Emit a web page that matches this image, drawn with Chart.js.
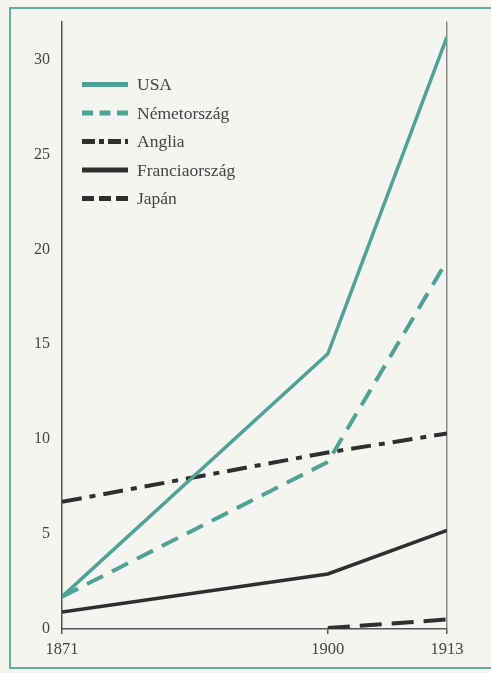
<!DOCTYPE html>
<html><head><meta charset="utf-8">
<script src="https://cdn.jsdelivr.net/npm/chart.js@4"></script>
<style>
html,body{margin:0;padding:0;background:#f4f4f1;}
#wrap{position:relative;width:491px;height:673px;overflow:hidden;background:#f4f4f1;}
#frame{position:absolute;left:9px;top:7px;width:520px;height:662px;border:2px solid #5fae9f;box-sizing:border-box;}
canvas{position:absolute;left:0;top:0;}
</style></head><body>
<div id="wrap"><div id="frame"></div><canvas id="c" width="491" height="673"></canvas></div>
<script>
const years = [1871, 1900, 1913];
const usa = [1.7, 14.5, 31.2];
const nemetorszag = [1.7, 8.8, 19.4];
const anglia = [6.7, 9.3, 10.3];
const franciaorszag = [0.9, 2.9, 5.2];
const japan = [null, 0.05, 0.5];
const seriesNames = ['USA', 'Németország', 'Anglia', 'Franciaország', 'Japán'];
const yTicks = [0, 5, 10, 15, 20, 25, 30];
const xTicks = [1871, 1900, 1913];

const TEAL = '#4fa394';
const DARK = '#2f2f2f';
const FONT = 'Liberation Serif';

const pts = arr => years.map((x, i) => ({x: x, y: arr[i]}));

const insideLegend = {
  id: 'insideLegend',
  afterDatasetsDraw(chart, args, opts) {
    const {ctx, chartArea} = chart;
    ctx.save();
    chart.data.datasets.forEach((ds, i) => {
      const y = chartArea.top + opts.top + i * opts.spacing;
      const x0 = chartArea.left + opts.left;
      ctx.beginPath();
      ctx.strokeStyle = ds.borderColor;
      ctx.lineWidth = opts.lineWidth;
      ctx.setLineDash(ds.legendDash || []);
      ctx.moveTo(x0, y);
      ctx.lineTo(x0 + opts.lineLength, y);
      ctx.stroke();
      ctx.setLineDash([]);
      ctx.fillStyle = opts.color;
      ctx.font = opts.font;
      ctx.textBaseline = 'middle';
      ctx.textAlign = 'left';
      ctx.fillText(ds.label, x0 + opts.lineLength + opts.gap, y + 1);
    });
    ctx.restore();
  }
};

new Chart(document.getElementById('c'), {
  type: 'line',
  data: {
    datasets: [
      {label: seriesNames[0], data: pts(usa), borderColor: TEAL, borderWidth: 3.5, borderDash: [], legendDash: []},
      {label: seriesNames[1], data: pts(nemetorszag), borderColor: TEAL, borderWidth: 4, borderDash: [18, 10], legendDash: [11, 6.5]},
      {label: seriesNames[2], data: pts(anglia), borderColor: DARK, borderWidth: 4, borderDash: [20, 8, 6, 8], legendDash: [13, 4, 5, 4]},
      {label: seriesNames[3], data: pts(franciaorszag), borderColor: DARK, borderWidth: 3.5, borderDash: [], legendDash: []},
      {label: seriesNames[4], data: pts(japan), borderColor: DARK, borderWidth: 4, borderDash: [22, 10], legendDash: [12, 5]}
    ]
  },
  options: {
    responsive: false,
    animation: false,
    devicePixelRatio: 1,
    layout: {padding: {top: 19, right: 44, left: 0, bottom: 0}},
    elements: {point: {radius: 0}, line: {tension: 0, borderCapStyle: 'butt', fill: false}},
    plugins: {
      legend: {display: false},
      tooltip: {enabled: false},
      insideLegend: {top: 63, left: 20, spacing: 28.5, lineLength: 46, gap: 9, lineWidth: 5,
        color: '#444', font: '17.5px "' + FONT + '"'}
    },
    scales: {
      x: {
        type: 'linear', min: 1871, max: 1913,
        afterBuildTicks: s => { s.ticks = xTicks.map(v => ({value: v})); },
        afterFit: s => { s.height = 44; },
        grid: {
          drawOnChartArea: true,
          color: c => (c.tick && c.tick.value === 1913) ? '#8a8a8a' : 'rgba(0,0,0,0)',
          tickColor: '#555', tickLength: 5, lineWidth: 1.5
        },
        border: {display: true, color: '#555', width: 1.5},
        ticks: {padding: 6, maxRotation: 0, autoSkip: false, color: '#444',
          font: {family: FONT, size: 16.5}, callback: v => String(v)}
      },
      y: {
        type: 'linear', min: 0, max: 32,
        afterBuildTicks: s => { s.ticks = yTicks.map(v => ({value: v})); },
        afterFit: s => { s.width = 62; },
        grid: {drawOnChartArea: false, drawTicks: false},
        border: {display: true, color: '#555', width: 1.5},
        ticks: {padding: 12, color: '#444', font: {family: FONT, size: 16}}
      }
    }
  },
  plugins: [insideLegend]
});
</script>
</body></html>
